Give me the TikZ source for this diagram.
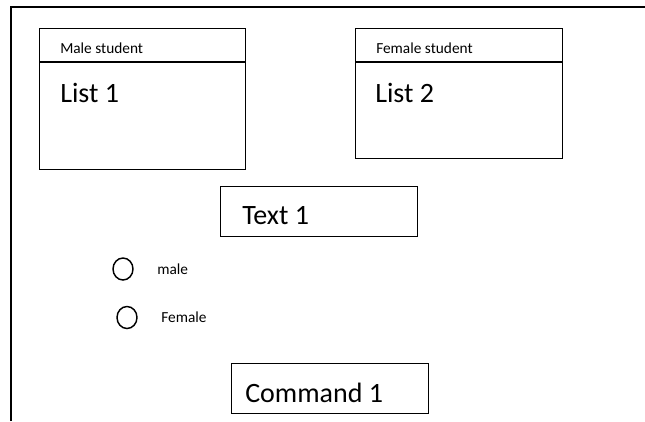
\documentclass[tikz,border=0pt]{standalone}
\usepackage{fontspec}
\setmainfont{Carlito}
\usepackage{tikz}
\usetikzlibrary{shapes,positioning}

\begin{document}
\begin{tikzpicture}[x=0.75pt,y=-0.75pt,
  box/.style={draw,line width=1.1pt,anchor=north west,inner sep=0pt},
  radio/.style={draw,ellipse,line width=1.1pt,inner sep=0pt,minimum width=15pt,minimum height=16.5pt},
  small/.style={anchor=west,inner sep=0pt,font=\fontsize{11.5}{13}\selectfont},
  big/.style={anchor=west,inner sep=0pt,font=\fontsize{21}{24}\selectfont}]
\useasboundingbox (0,0) rectangle (645,421);

% frame
\coordinate (fb) at (11,421);
\coordinate (fl) at (11,7);
\coordinate (fr) at (645,7);
\draw[line width=1.5pt] (fb) -- (fl) -- (fr);

% lists
\node[box,minimum width=154.5pt,minimum height=105.75pt] (male) at (39,28) {};
\node[box,minimum width=155.25pt,minimum height=97.5pt] (female) at (355,28) {};
\draw[line width=1.1pt] ([yshift=-25.5pt]male.north west) -- ([yshift=-25.5pt]male.north east);
\draw[line width=1.1pt] ([yshift=-25.5pt]female.north west) -- ([yshift=-25.5pt]female.north east);
\node[small] (1) at (60,48) {Male student};
\node[small] (2) at (376,48) {Female student};
\node[big] (3) at (60,93) {List 1};
\node[big] (4) at (375,93) {List 2};

% text box
\node[box,minimum width=147.75pt,minimum height=37.5pt] (text) at (220,186) {};
\node[big] (5) at (242,216) {Text 1};

% radio buttons
\node[radio] (r1) at (123,269) {};
\node[radio] (r2) at (127,317.5) {};
\node[small,right=17.5pt of r1] (6) {male};
\node[small,right=17.5pt of r2] (7) {Female};

% command
\node[box,minimum width=147.75pt,minimum height=37.5pt] (cmd) at (231,363) {};
\node[big] (8) at (245,393) {Command 1};
\end{tikzpicture}
\end{document}
